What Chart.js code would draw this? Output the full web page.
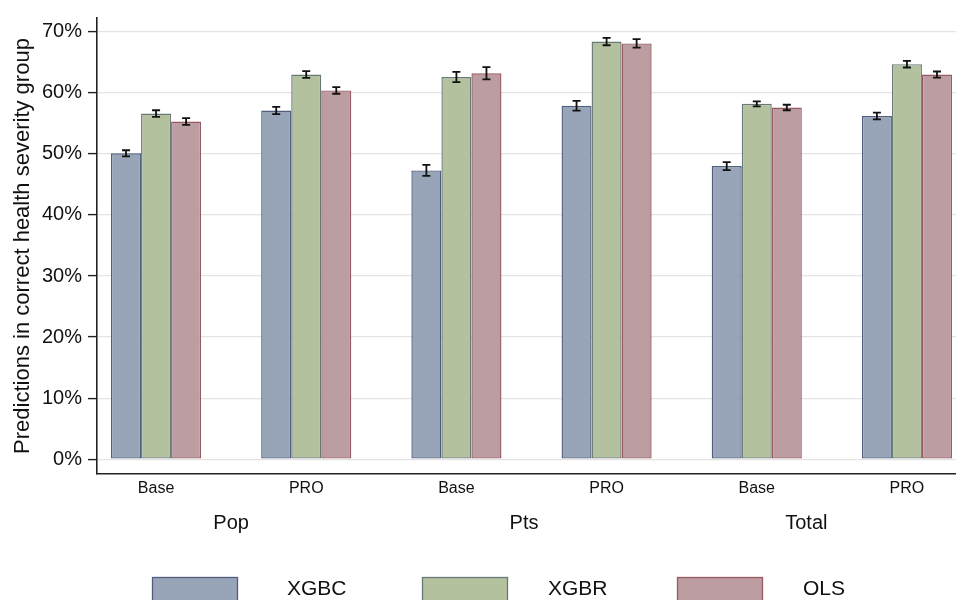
<!DOCTYPE html>
<html>
<head>
<meta charset="utf-8">
<script src="https://cdn.jsdelivr.net/npm/chart.js@4"></script>
<style>
    html, body { margin: 0; padding: 0; background: #fff; overflow: hidden; }
    #wrap { width: 956px; height: 600px; }
</style>
</head>
<body>
<div id="wrap"><canvas id="pred-chart" width="956" height="600"></canvas></div>
<script>
// categories: sub label per bar group, and the outer group names
const subLabels = ['Base', 'PRO', 'Base', 'PRO', 'Base', 'PRO'];
const groupNames = ['Pop', 'Pts', 'Total'];
const groupLabelPos = [0.5, 2.45, 4.33];

// series (percent) + half-width of the error bars
const xgbc = [50.1, 57.1, 47.3, 57.9, 48.0, 56.2];
const xgbr = [56.6, 63.0, 62.6, 68.4, 58.2, 64.7];
const ols = [55.3, 60.4, 63.2, 68.1, 57.6, 63.0];
const xgbcErr = [0.5, 0.6, 0.9, 0.8, 0.65, 0.55];
const xgbrErr = [0.55, 0.55, 0.85, 0.6, 0.4, 0.55];
const olsErr = [0.55, 0.55, 1.0, 0.7, 0.45, 0.5];

const yTicks = [0, 10, 20, 30, 40, 50, 60, 70];
const seriesNames = ['XGBC', 'XGBR', 'OLS'];

const FONT = "'Liberation Sans', Arial, Helvetica, sans-serif";

const toPoints = (arr) => arr.map((v, i) => ({ x: i, y: v }));

// error bars drawn on top of each bar
const errorBars = {
    id: 'errorBars',
    afterDatasetsDraw(chart) {
        const ctx = chart.ctx;
        const yScale = chart.scales.y;
        ctx.save();
        ctx.strokeStyle = '#111';
        ctx.lineWidth = 1.8;
        chart.data.datasets.forEach((ds, di) => {
            const meta = chart.getDatasetMeta(di);
            meta.data.forEach((bar, i) => {
                const v = ds.data[i].y;
                const e = ds.errs[i];
                const top = yScale.getPixelForValue(v + e);
                const bot = yScale.getPixelForValue(v - e);
                const x = bar.x;
                const cap = 4;
                ctx.beginPath();
                ctx.moveTo(x, top);
                ctx.lineTo(x, bot);
                ctx.moveTo(x - cap, top);
                ctx.lineTo(x + cap, top);
                ctx.moveTo(x - cap, bot);
                ctx.lineTo(x + cap, bot);
                ctx.stroke();
            });
        });
        ctx.restore();
    }
};

// stata-like legend row at the bottom
const bottomLegend = {
    id: 'bottomLegend',
    afterDraw(chart) {
        const ctx = chart.ctx;
        const boxX = [152, 422, 677];
        const textX = [287, 548, 803];
        ctx.save();
        chart.data.datasets.forEach((ds, i) => {
            ctx.fillStyle = ds.backgroundColor;
            ctx.strokeStyle = ds.borderColor;
            ctx.lineWidth = 1.3;
            ctx.fillRect(boxX[i], 577, 85, 30);
            ctx.strokeRect(boxX[i] + 0.5, 577.5, 85, 30);
            ctx.fillStyle = '#111';
            ctx.font = '21px ' + FONT;
            ctx.textBaseline = 'middle';
            ctx.fillText(ds.label, textX[i], 589);
        });
        ctx.restore();
    }
};

const canvas = document.querySelector('#pred-chart');
const ctx = canvas.getContext('2d');

new Chart(ctx, {
    type: 'bar',
    data: {
        datasets: [{
            label: seriesNames[0],
            data: toPoints(xgbc),
            errs: xgbcErr,
            backgroundColor: '#98a5b9',
            borderColor: '#4f5e7b'
        }, {
            label: seriesNames[1],
            data: toPoints(xgbr),
            errs: xgbrErr,
            backgroundColor: '#b3c19f',
            borderColor: '#687a78'
        }, {
            label: seriesNames[2],
            data: toPoints(ols),
            errs: olsErr,
            backgroundColor: '#bc9da1',
            borderColor: '#985a62'
        }]
    },
    options: {
        responsive: false,
        animation: false,
        layout: { padding: { top: 12, left: 0, right: 0, bottom: 0 } },
        datasets: {
            bar: {
                borderWidth: 1.4,
                borderSkipped: false,
                barPercentage: 1,
                categoryPercentage: 0.6
            }
        },
        plugins: {
            legend: { display: false },
            tooltip: { enabled: false }
        },
        scales: {
            x: {
                type: 'linear',
                position: 'bottom',
                offset: false,
                weight: 0,
                min: -0.3933,
                max: 5.3267,
                afterBuildTicks: (scale) => {
                    scale.ticks = subLabels.map((s, i) => ({ value: i }));
                },
                afterFit: (scale) => { scale.height = 30; },
                ticks: {
                    autoSkip: false,
                    maxRotation: 0,
                    padding: 5,
                    color: '#111',
                    font: { family: FONT, size: 16 },
                    callback: (v) => subLabels[v]
                },
                grid: { display: false, drawTicks: false, offset: false },
                border: { display: true, color: '#222', width: 1.6 }
            },
            x2: {
                type: 'linear',
                position: 'bottom',
                offset: false,
                weight: 1,
                min: -0.3933,
                max: 5.3267,
                afterBuildTicks: (scale) => {
                    scale.ticks = groupLabelPos.map((p) => ({ value: p }));
                },
                afterFit: (scale) => { scale.height = 96; },
                ticks: {
                    autoSkip: false,
                    maxRotation: 0,
                    padding: 7,
                    color: '#111',
                    font: { family: FONT, size: 20 },
                    callback: (v, i) => groupNames[i]
                },
                grid: { display: false, drawTicks: false, offset: false },
                border: { display: false }
            },
            y: {
                min: -2.425,
                max: 72.26,
                afterBuildTicks: (scale) => {
                    scale.ticks = yTicks.map((v) => ({ value: v }));
                },
                afterFit: (scale) => { scale.width = 97; },
                ticks: {
                    padding: 6,
                    color: '#111',
                    font: { family: FONT, size: 20 },
                    callback: (v) => v + '%'
                },
                grid: {
                    color: '#e4e4e4',
                    lineWidth: 1.2,
                    tickColor: '#222',
                    tickLength: 9,
                    tickWidth: 1.4
                },
                border: { display: true, color: '#222', width: 1.6 },
                title: {
                    display: true,
                    text: 'Predictions in correct health severity group',
                    color: '#111',
                    font: { family: FONT, size: 22 },
                    padding: { top: 10, bottom: 0 }
                }
            }
        }
    },
    plugins: [errorBars, bottomLegend]
});
</script>
</body>
</html>
